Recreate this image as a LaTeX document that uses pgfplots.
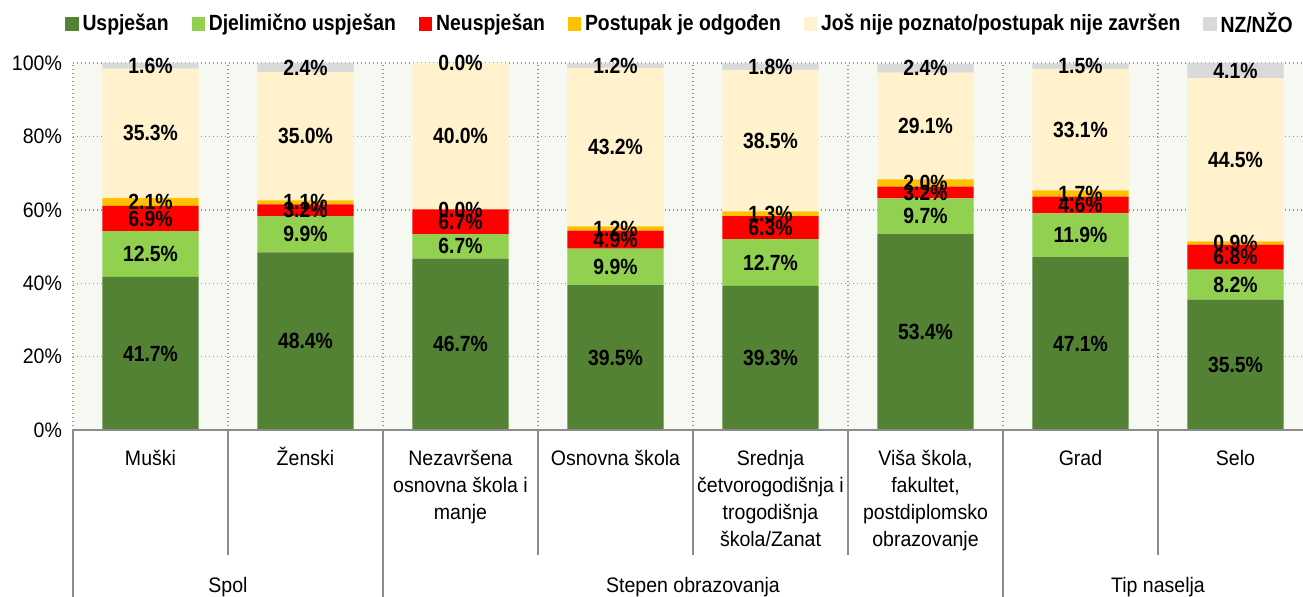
\documentclass[border=0pt]{standalone}
\usepackage{pgfplots}
\pgfplotsset{compat=1.18}
\usepackage{pgfplotstable}
\usepackage{fontspec}
\setmainfont{Liberation Sans}[FakeStretch=0.93, BoldFeatures={FakeStretch=0.88}]

\definecolor{cA}{RGB}{84,130,53}
\definecolor{cB}{RGB}{146,208,80}
\definecolor{cC}{RGB}{255,0,0}
\definecolor{cD}{RGB}{255,192,0}
\definecolor{cE}{RGB}{255,242,204}
\definecolor{cF}{RGB}{217,217,217}
\definecolor{bg}{RGB}{246,248,242}
\definecolor{gridc}{RGB}{150,150,150}
\definecolor{axc}{RGB}{140,140,140}

\pgfplotstableread{
x a b c d e f
0 41.7 12.5 6.9 2.1 35.3 1.6
1 48.4 9.9 3.2 1.1 35.0 2.4
2 46.7 6.7 6.7 0.0 40.0 0.0
3 39.5 9.9 4.9 1.2 43.2 1.2
4 39.3 12.7 6.3 1.3 38.5 1.8
5 53.4 9.7 3.2 2.0 29.1 2.4
6 47.1 11.9 4.6 1.7 33.1 1.5
7 35.5 8.2 6.8 0.9 44.5 4.1
}\data

\pgfplotsset{common/.style={
  at={(0,0)}, anchor=south west, scale only axis,
  width=620pt, height=183.5pt,
  xmin=-0.5, xmax=7.5, ymin=0, ymax=100,
}}

\begin{document}
\begin{tikzpicture}
\begin{axis}[common, ybar stacked, bar width=0.62,
  axis line style={draw=none},
  axis background/.style={fill=bg},
  ymajorgrids, xminorgrids,
  grid style={gridc, line width=0.7pt, dash pattern=on 0.7pt off 1.3pt},
  xtick={0,...,7},
  minor xtick={-0.5,0.5,...,7.5},
  major tick length=0pt, minor tick length=0pt,
  ytick={0,20,...,100},
  yticklabel={\pgfmathprintnumber{\tick}\%},
  /pgf/number format/assume math mode=true,
  tick label style={font=\fontsize{10.5}{13.5}\selectfont},
  yticklabel style={xshift=-2pt},
  xticklabel style={align=center, yshift=-6.5pt},
  xticklabels={Muški, {\smash{Ž}enski}, {Nezavršena\\osnovna škola i\\manje}, Osnovna škola,
    {Srednja\\četvorogodišnja i\\trogodišnja\\škola/Zanat},
    {Viša škola,\\fakultet,\\postdiplomsko\\obrazovanje}, Grad, Selo},
  legend columns=6,
  legend style={draw=none, fill=none, at={(0.4903,1)}, anchor=center, yshift=19.5pt,
    font=\bfseries\fontsize{11}{13}\selectfont,
    /tikz/every even column/.append style={column sep=9.5pt}},
  legend image code/.code={\fill[#1] (0pt,-3.3pt) rectangle (6.6pt,3.3pt);},
]
\addplot[fill=cA, draw=none] table[x=x, y=a]{\data};
\addplot[fill=cB, draw=none] table[x=x, y=b]{\data};
\addplot[fill=cC, draw=none] table[x=x, y=c]{\data};
\addplot[fill=cD, draw=none] table[x=x, y=d]{\data};
\addplot[fill=cE, draw=none] table[x=x, y=e]{\data};
\addplot[fill=cF, draw=none] table[x=x, y=f]{\data};
\legend{Uspješan, Djelimično uspješan, Neuspješan, Postupak je odgođen, Još nije poznato/postupak nije završen, NZ/NŽO}
\end{axis}
\begin{axis}[common, hide axis, clip=false,
  point meta=explicit,
  /pgf/number format/assume math mode=true,
  nodes near coords={\pgfmathprintnumber[fixed,fixed zerofill,precision=1]{\pgfplotspointmeta}\%},
  nodes near coords align={center},
  every node near coord/.append style={font=\bfseries\fontsize{11}{13}\selectfont, anchor=center, text=black},
]
\addplot[draw=none, mark=none] table[x=x, y expr=0.5*\thisrow{a}, meta=a]{\data};
\addplot[draw=none, mark=none] table[x=x, y expr=\thisrow{a}+0.5*\thisrow{b}, meta=b]{\data};
\addplot[draw=none, mark=none] table[x=x, y expr=\thisrow{a}+\thisrow{b}+0.5*\thisrow{c}, meta=c]{\data};
\addplot[draw=none, mark=none] table[x=x, y expr=\thisrow{a}+\thisrow{b}+\thisrow{c}+0.5*\thisrow{d}, meta=d]{\data};
\addplot[draw=none, mark=none] table[x=x, y expr=\thisrow{a}+\thisrow{b}+\thisrow{c}+\thisrow{d}+0.5*\thisrow{e}, meta=e]{\data};
\addplot[draw=none, mark=none] table[x=x, y expr=\thisrow{a}+\thisrow{b}+\thisrow{c}+\thisrow{d}+\thisrow{e}+0.5*\thisrow{f}, meta=f]{\data};
\draw[axc, line width=0.8pt] (axis cs:-0.5,0) -- (axis cs:7.5,0);
\pgfplotsinvokeforeach{0.5,2.5,3.5,4.5,6.5}{\draw[axc, line width=0.8pt] (axis cs:#1,0) -- ([yshift=-62.5pt]axis cs:#1,0);}
\pgfplotsinvokeforeach{-0.5,1.5,5.5,7.5}{\draw[axc, line width=0.8pt] (axis cs:#1,0) -- ([yshift=-95pt]axis cs:#1,0);}
\node[anchor=base, font=\fontsize{10.5}{12.5}\selectfont] at ([yshift=-81pt]axis cs:0.5,0) {Spol};
\node[anchor=base, font=\fontsize{10.5}{12.5}\selectfont] at ([yshift=-81pt]axis cs:3.5,0) {Stepen obrazovanja};
\node[anchor=base, font=\fontsize{10.5}{12.5}\selectfont] at ([yshift=-81pt]axis cs:6.5,0) {Tip naselja};
\end{axis}
\pgfresetboundingbox
\path[use as bounding box] (-36.5pt,-83pt) rectangle (615pt,215pt);
\end{tikzpicture}
\end{document}
